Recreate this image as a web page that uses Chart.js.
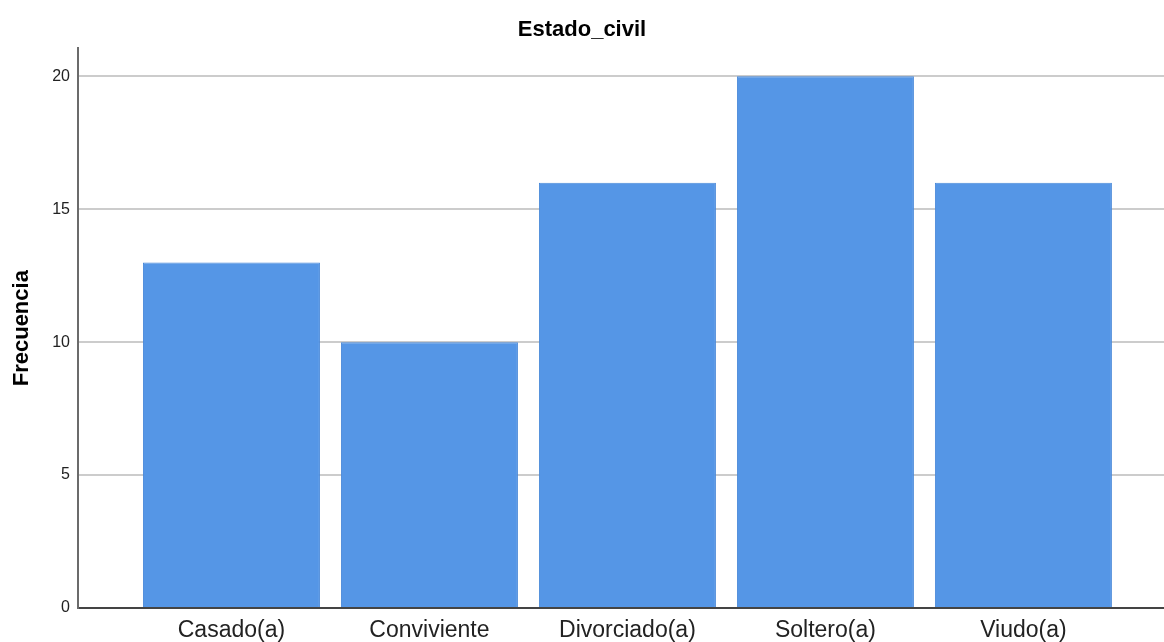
<!DOCTYPE html>
<html lang="es">
<head>
  <meta charset="UTF-8" />
  <title>Estado_civil</title>
  <script src="https://cdn.jsdelivr.net/npm/chart.js"></script>
  <style>
    html, body { margin: 0; padding: 0; background: #fff; }
    #grafico { display: block; }
  </style>
</head>
<body>
  <canvas id="grafico" width="1164" height="642"></canvas>

  <script>
    // Datos del gráfico
    const categorias = ['Casado(a)', 'Conviviente', 'Divorciado(a)', 'Soltero(a)', 'Viudo(a)'];
    const frecuencias = [13, 10, 16, 20, 16];
    const ticksY = [0, 5, 10, 15, 20];

    const fuente = "'Liberation Sans', Arial, sans-serif";

    const ctx = document.getElementById('grafico').getContext('2d');
    new Chart(ctx, {
      type: 'bar',
      data: {
        datasets: [{
          label: 'Frecuencia',
          data: frecuencias.map((v, i) => ({ x: i, y: v })),
          backgroundColor: '#5596e6',
          borderColor: '#4a89d9',
          borderWidth: 1,
          categoryPercentage: 1,
          barPercentage: 0.894
        }]
      },
      options: {
        responsive: false,
        animation: false,
        layout: { padding: 0 },
        plugins: {
          legend: { display: false },
          tooltip: { enabled: false },
          title: {
            display: true,
            text: 'Estado_civil',
            color: '#000',
            font: { family: fuente, size: 22, weight: 'bold' },
            padding: { top: 17, bottom: 5 }
          }
        },
        scales: {
          x: {
            type: 'linear',
            offset: false,
            min: -0.775,
            max: 4.71,
            afterBuildTicks: (s) => { s.ticks = categorias.map((c, i) => ({ value: i })); },
            afterFit: (s) => { s.height = 34; },
            grid: { display: false, drawTicks: false, offset: false },
            border: { display: true, color: '#444', width: 2 },
            ticks: {
              color: '#222',
              padding: 9,
              maxRotation: 0,
              autoSkip: false,
              font: { family: fuente, size: 23 },
              callback: (v) => categorias[v]
            }
          },
          y: {
            min: 0,
            max: 21.05,
            afterBuildTicks: (s) => { s.ticks = ticksY.map(v => ({ value: v })); },
            afterFit: (s) => { s.width = 78; },
            grid: { color: '#cccccc', lineWidth: 2, drawTicks: false },
            border: { display: true, color: '#6b6b6b', width: 2 },
            ticks: {
              color: '#222',
              padding: 8,
              font: { family: fuente, size: 16 }
            },
            title: {
              display: true,
              text: 'Frecuencia',
              color: '#000',
              font: { family: fuente, size: 22, weight: 'bold' },
              padding: { top: 9, bottom: 0 }
            }
          }
        }
      }
    });
  </script>
</body>
</html>
